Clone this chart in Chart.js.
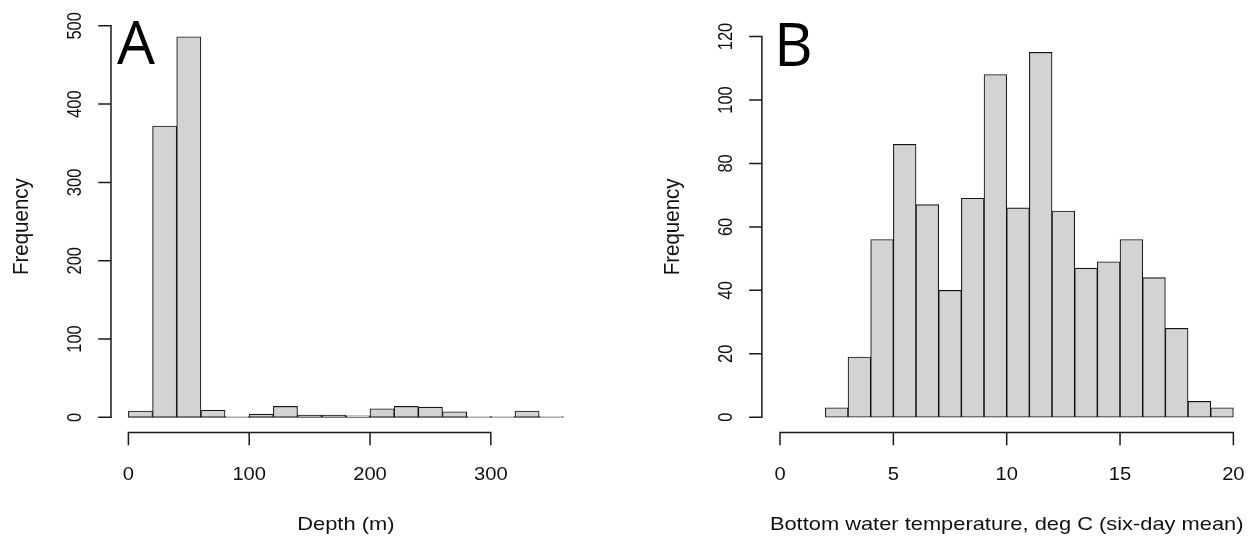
<!DOCTYPE html>
<html>
<head>
<meta charset="utf-8">
<script src="https://cdn.jsdelivr.net/npm/chart.js@4.4.1/dist/chart.umd.min.js"></script>
<style>
  html, body { margin: 0; padding: 0; background: #fff; }
  #wrap { position: relative; width: 1255px; height: 542px; overflow: hidden; }
  canvas { position: absolute; top: 0; }
</style>
</head>
<body>
<div id="wrap">
  <canvas id="depthChart" width="627" height="542" style="left:0"></canvas>
  <canvas id="tempChart" width="628" height="542" style="left:627px"></canvas>
</div>
<script>
// Panel A: depth histogram (bin edges, counts)
const depthBins = [0, 20, 40, 60, 80, 100, 120, 140, 160, 180, 200, 220, 240, 260, 280, 300, 320, 340, 360];
const depthCounts = [8, 372, 486, 9, 1, 4, 14, 3, 3, 2, 11, 14, 13, 7, 1, 1, 8, 1];
const depthXTicks = [0, 100, 200, 300];
const depthYTicks = [0, 100, 200, 300, 400, 500];

// Panel B: bottom water temperature histogram
const tempBins = [2, 3, 4, 5, 6, 7, 8, 9, 10, 11, 12, 13, 14, 15, 16, 17, 18, 19, 20];
const tempCounts = [3, 19, 56, 86, 67, 40, 69, 108, 66, 115, 65, 47, 49, 56, 44, 28, 5, 3];
const tempXTicks = [0, 5, 10, 15, 20];
const tempYTicks = [0, 20, 40, 60, 80, 100, 120];

const FONT = '"Liberation Sans", Arial, Helvetica, sans-serif';
const INK = '#111';

function txt(ctx, s, x, y, size, rot, sx, family) {
  ctx.save();
  ctx.translate(x, y);
  ctx.scale(sx, 1);
  ctx.rotate(rot);
  ctx.font = size + 'px ' + (family || FONT);
  ctx.fillStyle = INK;
  ctx.textAlign = 'center';
  ctx.textBaseline = 'alphabetic';
  ctx.fillText(s, 0, 0);
  ctx.restore();
}

// base-R style axes: line only between first and last tick, outward ticks
const rAxes = {
  id: 'rAxes',
  afterDraw(chart, args, o) {
    const ctx = chart.ctx;
    const a = chart.chartArea;
    const xs = chart.scales.x, ys = chart.scales.y;
    ctx.save();
    ctx.strokeStyle = '#1a1a1a';
    ctx.lineWidth = 1.5;
    ctx.lineCap = 'square';

    // x axis
    const x0 = xs.getPixelForValue(o.xTicks[0]);
    const x1 = xs.getPixelForValue(o.xTicks[o.xTicks.length - 1]);
    ctx.beginPath();
    ctx.moveTo(x0, a.bottom); ctx.lineTo(x1, a.bottom);
    o.xTicks.forEach(v => {
      const px = xs.getPixelForValue(v);
      ctx.moveTo(px, a.bottom); ctx.lineTo(px, a.bottom + 12);
    });
    // y axis
    const y0 = ys.getPixelForValue(o.yTicks[0]);
    const y1 = ys.getPixelForValue(o.yTicks[o.yTicks.length - 1]);
    ctx.moveTo(a.left, y0); ctx.lineTo(a.left, y1);
    o.yTicks.forEach(v => {
      const py = ys.getPixelForValue(v);
      ctx.moveTo(a.left, py); ctx.lineTo(a.left - 12, py);
    });
    ctx.stroke();
    ctx.restore();

    o.xTicks.forEach(v => txt(ctx, String(v), xs.getPixelForValue(v), a.bottom + 47, 18, 0, 1.12));
    o.yTicks.forEach(v => txt(ctx, String(v), a.left - 30, ys.getPixelForValue(v), 16.5, -Math.PI / 2, 1.25));

    txt(ctx, o.xLabel, (a.left + a.right) / 2, a.bottom + 97, 19, 0, 1.15);
    txt(ctx, o.yLabel, a.left - 83, (a.top + a.bottom) / 2, 20.5, -Math.PI / 2, 1.05);

    ctx.save();
    ctx.font = '60px "Open Sans", Lato, sans-serif';
    ctx.fillStyle = '#000';
    ctx.textAlign = 'left';
    ctx.fillText(o.letter, a.left + o.letterDx, o.letterY);
    ctx.restore();
  }
};

function histogram(id, bins, counts, xr, yr, pad, axes) {
  const pts = counts.map((c, i) => ({ x: (bins[i] + bins[i + 1]) / 2, y: c }));
  return new Chart(document.getElementById(id), {
    type: 'bar',
    data: {
      datasets: [{
        data: pts,
        backgroundColor: '#d3d3d3',
        borderColor: '#151515',
        borderWidth: 1.1,
        borderSkipped: false,
        barPercentage: 1,
        categoryPercentage: 1
      }]
    },
    options: {
      responsive: false,
      animation: false,
      devicePixelRatio: 1,
      layout: { padding: pad },
      scales: {
        x: { type: 'linear', min: xr[0], max: xr[1], offset: false, display: false },
        y: { type: 'linear', min: yr[0], max: yr[1], display: false }
      },
      plugins: {
        legend: { display: false },
        tooltip: { enabled: false },
        rAxes: axes
      }
    },
    plugins: [rAxes]
  });
}

histogram('depthChart', depthBins, depthCounts, [-14.4, 374.4], [-19.5, 506.5],
  { left: 111, right: 46.3, top: 20.7, bottom: 109.4 },
  { xTicks: depthXTicks, yTicks: depthYTicks, xLabel: 'Depth (m)', yLabel: 'Frequency',
    letter: 'A', letterDx: 6, letterY: 64 });

histogram('tempChart', tempBins, tempCounts, [-0.8, 20.8], [-4.8, 124.8],
  { left: 134.9, right: 3.5, top: 21.3, bottom: 109.5 },
  { xTicks: tempXTicks, yTicks: tempYTicks, xLabel: 'Bottom water temperature, deg C (six-day mean)',
    yLabel: 'Frequency', letter: 'B', letterDx: 12, letterY: 66 });
</script>
</body>
</html>
